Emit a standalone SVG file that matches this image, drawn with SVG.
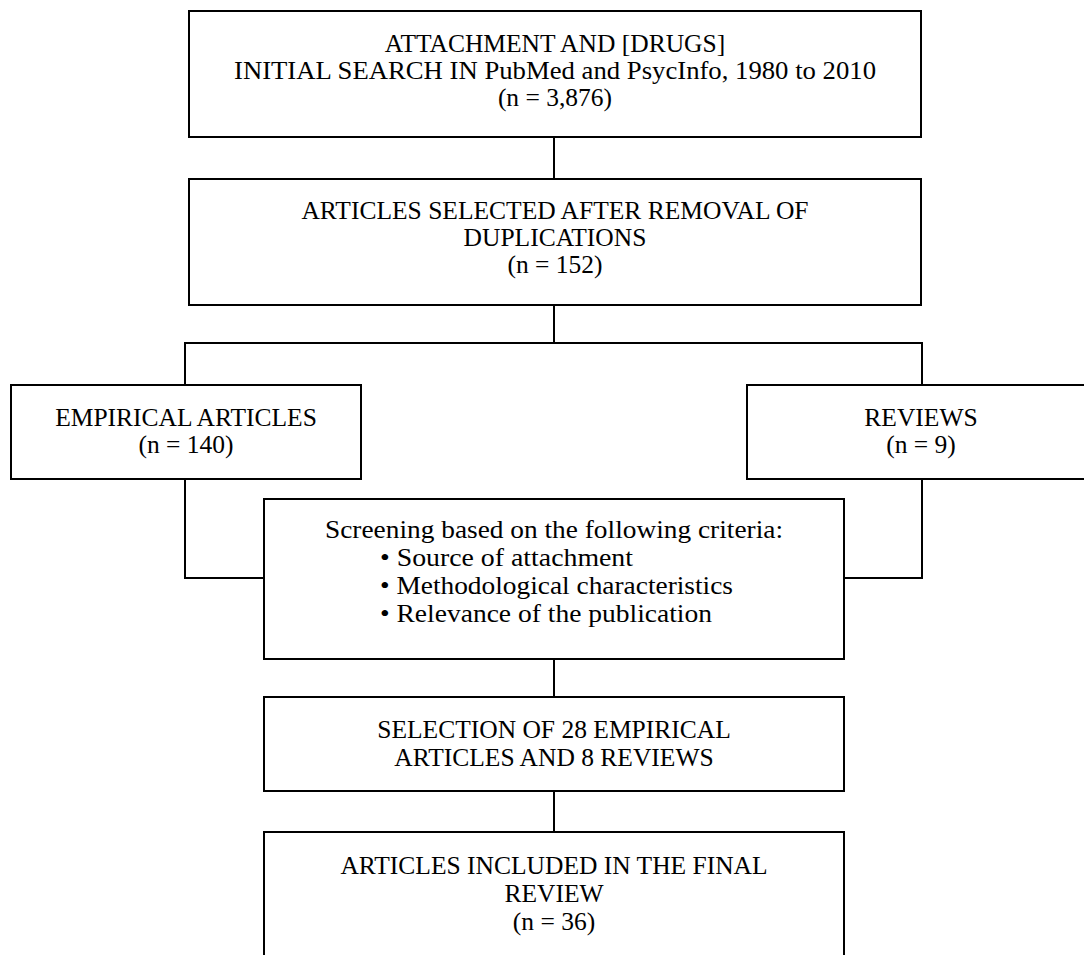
<svg xmlns="http://www.w3.org/2000/svg" width="1084" height="955" viewBox="0 0 1084 955">
<style>
.box{fill:#fff;stroke:#000;stroke-width:2}
.ln{fill:none;stroke:#000;stroke-width:2}
text{font-family:"Liberation Serif","Times New Roman",serif;font-size:25.5px;fill:#000}
.c{text-anchor:middle}
</style>
<rect width="1084" height="955" fill="#fff"/>
<g id="connectors">
<path class="ln" d="M554,137V179"/>
<path class="ln" d="M554,305V343"/>
<path class="ln" d="M185,385V343H922V385"/>
<path class="ln" d="M185,479V578H264"/>
<path class="ln" d="M922,479V578H844"/>
<path class="ln" d="M554,659V697"/>
<path class="ln" d="M554,791V832"/>
</g>
<g id="n1">
<rect class="box" x="189" y="11" width="732" height="126"/>
<text class="c" x="555" y="52">ATTACHMENT AND [DRUGS]</text>
<text class="c" x="555" y="79" textLength="642" lengthAdjust="spacingAndGlyphs">INITIAL SEARCH IN PubMed and PsycInfo, 1980 to 2010</text>
<text class="c" x="555" y="106">(n = 3,876)</text>
</g>
<g id="n2">
<rect class="box" x="189" y="179" width="732" height="126"/>
<text class="c" x="555" y="219">ARTICLES SELECTED AFTER REMOVAL OF</text>
<text class="c" x="555" y="246">DUPLICATIONS</text>
<text class="c" x="555" y="273">(n = 152)</text>
</g>
<g id="n3">
<rect class="box" x="11" y="385" width="350" height="94"/>
<text class="c" x="186" y="426">EMPIRICAL ARTICLES</text>
<text class="c" x="186" y="453">(n = 140)</text>
</g>
<g id="n4">
<rect class="box" x="747" y="385" width="400" height="94"/>
<text class="c" x="921" y="426">REVIEWS</text>
<text class="c" x="921" y="453">(n = 9)</text>
</g>
<g id="n5">
<rect class="box" x="264" y="499" width="580" height="160"/>
<text class="c" x="554" y="538" textLength="458" lengthAdjust="spacingAndGlyphs">Screening based on the following criteria:</text>
<text x="380" y="566" textLength="253" lengthAdjust="spacingAndGlyphs">• Source of attachment</text>
<text x="380" y="594" textLength="353" lengthAdjust="spacingAndGlyphs">• Methodological characteristics</text>
<text x="380" y="622" textLength="332" lengthAdjust="spacingAndGlyphs">• Relevance of the publication</text>
</g>
<g id="n6">
<rect class="box" x="264" y="697" width="580" height="94"/>
<text class="c" x="554" y="738">SELECTION OF 28 EMPIRICAL</text>
<text class="c" x="554" y="766">ARTICLES AND 8 REVIEWS</text>
</g>
<g id="n7">
<path class="ln" d="M264,960V832H844V960"/>
<text class="c" x="554" y="874">ARTICLES INCLUDED IN THE FINAL</text>
<text class="c" x="554" y="902">REVIEW</text>
<text class="c" x="554" y="930">(n = 36)</text>
</g>
</svg>
